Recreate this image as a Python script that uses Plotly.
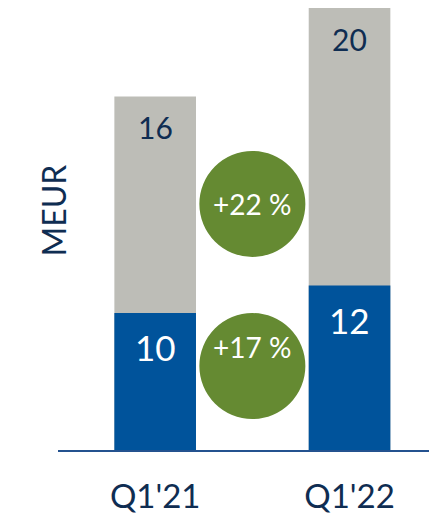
import plotly.graph_objects as go

categories = ["Q1'21", "Q1'22"]
totals = [16, 20]
blue_values = [10, 12]
growth_labels = ["+22 %", "+17 %"]
unit_label = "MEUR"

GREY = "#BDBDB7"
BLUE = "#00539B"
GREEN = "#658A32"
NAVY = "#0F2D52"
FONT = "Lato"

fig = go.Figure()
fig.add_trace(go.Bar(x=categories, y=totals, marker=dict(color=GREY, line=dict(width=0)),
                     width=0.42, yaxis="y", hoverinfo="skip"))
fig.add_trace(go.Bar(x=categories, y=blue_values, marker=dict(color=BLUE, line=dict(width=0)),
                     width=0.42, yaxis="y2", hoverinfo="skip"))

annotations = []
for c, t in zip(categories, totals):
    annotations.append(dict(x=c, y=t, xref="x", yref="y", text=str(t), showarrow=False,
                            yshift=-31, font=dict(family=FONT, size=30, color=NAVY)))
for c, b in zip(categories, blue_values):
    annotations.append(dict(x=c, y=b, xref="x", yref="y2", text=str(b), showarrow=False,
                            yshift=-34, font=dict(family=FONT, size=35, color="white")))

shapes = []
circle_y = [0.5566, 0.19]
for g, cy in zip(growth_labels, circle_y):
    shapes.append(dict(type="circle", xref="x", yref="paper", xsizemode="pixel", ysizemode="pixel",
                       xanchor=0.5, yanchor=cy, x0=-53, x1=53, y0=-53, y1=53,
                       fillcolor=GREEN, line=dict(width=0), layer="above"))
    annotations.append(dict(x=0.5, y=cy, xref="x", yref="paper", text=g, showarrow=False,
                            font=dict(family=FONT, size=28, color="white")))

annotations.append(dict(x=-0.066, y=0.543, xref="paper", yref="paper", text=unit_label,
                        textangle=-90, showarrow=False,
                        font=dict(family=FONT, size=32, color=NAVY)))

fig.update_layout(
    width=429, height=508,
    margin=dict(l=50, r=0, t=0, b=66, autoexpand=False),
    paper_bgcolor="white", plot_bgcolor="white",
    barmode="overlay", showlegend=False,
    xaxis=dict(range=[-0.5, 1.45], showgrid=False, zeroline=False, automargin=False,
               showline=True, linecolor="#24528F", linewidth=1.5,
               ticks="", tickfont=dict(family=FONT, size=33, color=NAVY),
               ticklabelstandoff=17),
    yaxis=dict(range=[0, 442 / 22.1], visible=False, showgrid=False, zeroline=False, automargin=False),
    yaxis2=dict(range=[0, 442 / 13.7], visible=False, overlaying="y", showgrid=False,
                zeroline=False, automargin=False),
    annotations=annotations, shapes=shapes,
)

fig.write_html("out.html")
